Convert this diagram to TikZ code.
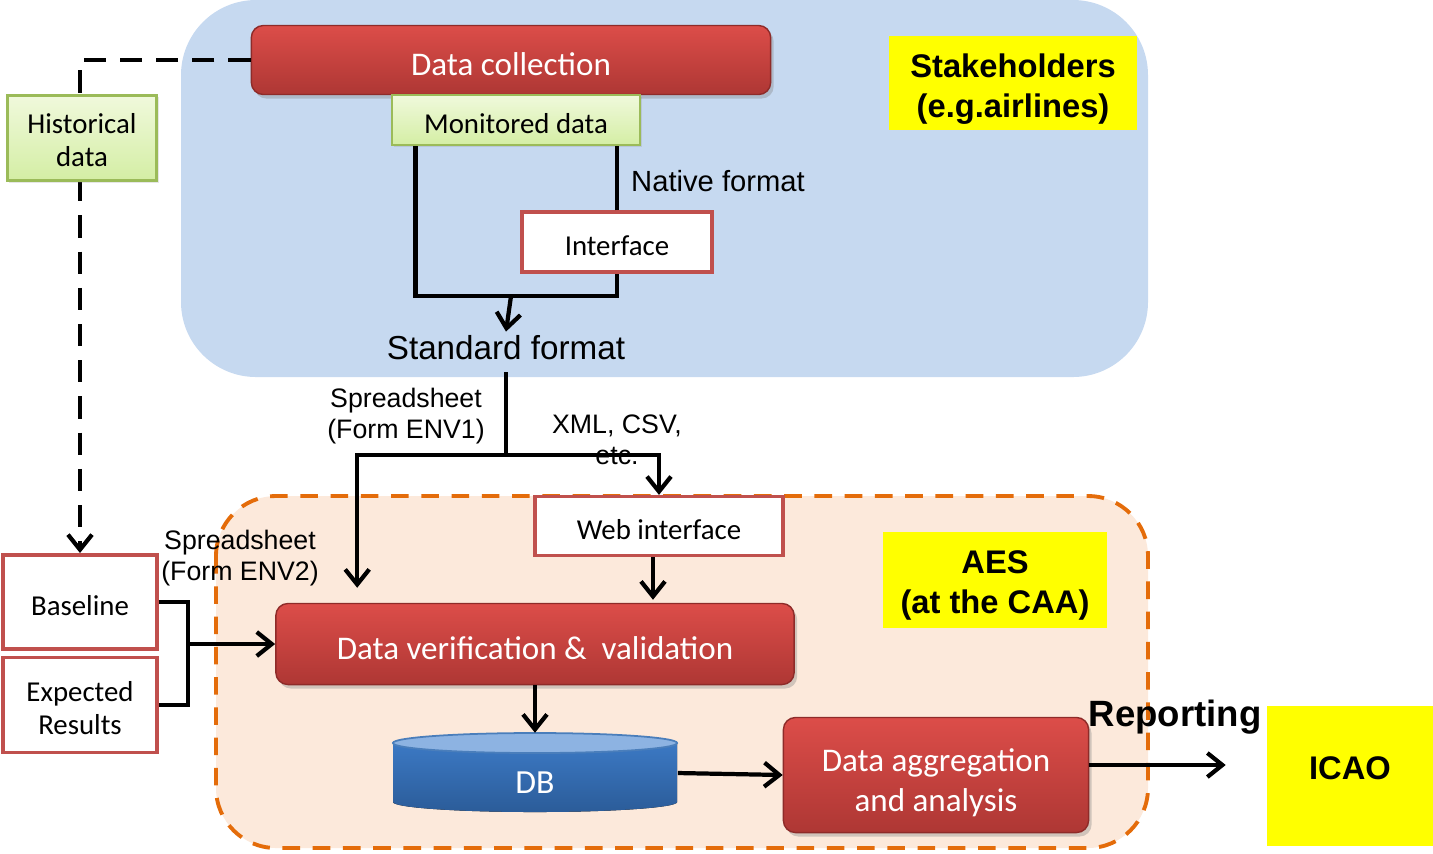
\documentclass[tikz,border=0pt]{standalone}
\usepackage{fontspec}
\setmainfont{Carlito}
\newfontfamily\arialFont{Liberation Sans}
\usetikzlibrary{arrows.meta,shadows}
\definecolor{regionBlue}{HTML}{C6D9F0}
\definecolor{regionPeach}{HTML}{FCE9DB}
\definecolor{dashOrange}{HTML}{E46C0A}
\definecolor{redTop}{HTML}{DC4D49}
\definecolor{redBottom}{HTML}{AE3734}
\definecolor{redLine}{HTML}{8E2B29}
\definecolor{frameRed}{HTML}{C0504D}
\definecolor{greenTop}{HTML}{F0F9DC}
\definecolor{greenBottom}{HTML}{D4EEA4}
\definecolor{greenLine}{HTML}{9BBB59}
\definecolor{dbCap}{HTML}{8DB3E2}
\definecolor{dbBodyTop}{HTML}{3E7DCA}
\definecolor{dbBodyBottom}{HTML}{2B5C99}
\definecolor{dbLine}{HTML}{4A7EBB}
\definecolor{labelYellow}{HTML}{FFFF00}
\begin{document}
\begin{tikzpicture}[x=0.01cm, y=-0.01cm,
    redBox/.style={draw=redLine, top color=redTop, bottom color=redBottom, rounded corners=0.12cm,
        text=white, font=\fontsize{9.4}{11.4}\selectfont, align=center,
        drop shadow={opacity=0.35, shadow xshift=0.03cm, shadow yshift=-0.04cm}},
    greenBox/.style={draw=greenLine, line width=0.6pt, top color=greenTop, bottom color=greenBottom,
        font=\fontsize{8.2}{9.4}\selectfont, align=center,
        drop shadow={opacity=0.2, shadow xshift=0.02cm, shadow yshift=-0.02cm}},
    frameBox/.style={draw=frameRed, line width=0.9pt, fill=white, font=\fontsize{8.2}{9.4}\selectfont, align=center},
    yellowBox/.style={fill=labelYellow, font=\arialFont\bfseries\fontsize{9.3}{11.4}\selectfont, align=center,
        inner ysep=0.5pt},
    note/.style={font=\arialFont\fontsize{7.6}{8.8}\selectfont, align=center, inner sep=1pt},
    connector/.style={line width=1.2pt},
    connArrow/.style={line width=1.2pt, -{Straight Barb[length=0.15cm, width=0.24cm, line width=1.2pt]}}]
    \useasboundingbox (0,0) rectangle (1433,853);

    % regions
    \fill[regionBlue, rounded corners=0.75cm] (181,0) rectangle (1148,377);
    \draw[dashOrange, fill=regionPeach, line width=1.1pt, dash pattern=on 5pt off 3.6pt, rounded corners=0.6cm]
        (216,496) rectangle (1148,848);

    % stakeholder side
    \node[redBox, text height=8.6pt, minimum width=5.19cm, minimum height=0.69cm] (collect) at (511,60) {Data collection};
    \node[greenBox, text height=7.6pt, minimum width=2.47cm, minimum height=0.50cm] (monitored) at (516,120) {Monitored data};
    \node[frameBox, text height=7.6pt, minimum width=1.90cm, minimum height=0.60cm] (interface) at (617,242) {Interface};
    \node[font=\arialFont\fontsize{8.3}{10}\selectfont] (native) at (718,181) {Native format};
    \node[font=\arialFont\fontsize{9.45}{11}\selectfont, inner sep=1pt] (std) at (506,348) {Standard format};
    \node[yellowBox, text height=21.5pt, minimum width=2.47cm, minimum height=0.94cm] (stake) at (1013,83)
        {Stakeholders\\(e.g.airlines)};

    % left column
    \draw[connArrow, line width=1.1pt, dash pattern=on 6.3pt off 4pt] (collect.west) -| (80,553);
    \node[greenBox, text height=16.4pt, minimum width=1.49cm, minimum height=0.85cm] (hist) at (82,138) {Historical\\data};
    \node[frameBox, text height=7.6pt, minimum width=1.54cm, minimum height=0.94cm] (baseline) at (80,602) {Baseline};
    \node[frameBox, text height=16.6pt, minimum width=1.54cm, minimum height=0.95cm] (expected) at (80,705) {Expected\\Results};

    % AES side
    \node[frameBox, text height=7.6pt, minimum width=2.48cm, minimum height=0.59cm] (web) at (659,526) {Web interface};
    \node[redBox, text height=8.6pt, minimum width=5.18cm, minimum height=0.81cm] (verify) at (535,644)
        {Data verification \&~ validation};
    \node[yellowBox, text height=20.9pt, minimum width=2.24cm, minimum height=0.95cm] (aes) at (995,580)
        {AES\\(at the CAA)};
    \fill[top color=dbBodyTop, bottom color=dbBodyBottom] (393,743) -- (393,802)
        arc[start angle=180, end angle=360, x radius=1.42cm, y radius=0.10cm] -- (677,743)
        arc[start angle=0, end angle=180, x radius=1.42cm, y radius=0.10cm] -- cycle;
    \filldraw[fill=dbCap, draw=dbLine, line width=0.5pt] (535,743) ellipse [x radius=1.42cm, y radius=0.10cm];
    \node[minimum width=2.84cm, minimum height=0.79cm] (db) at (535,773) {};
    \node[text=white, font=\fontsize{9.6}{11}\selectfont] (dbText) at (535,783) {DB};
    \node[redBox, text height=22.2pt, minimum width=3.05cm, minimum height=1.15cm] (agg) at (936,775)
        {Data aggregation\\and analysis};
    \node[yellowBox, text depth=4.6pt, minimum width=1.65cm, minimum height=1.40cm] (icao) at (1350,776) {ICAO};

    % labels on the connectors
    \node[note] (envOne) at (406,416) {Spreadsheet\\(Form ENV1)};
    \node[note] (xmlCsv) at (617,440) {XML, CSV,\\etc.};
    \node[note] (envTwo) at (240,558) {Spreadsheet\\(Form ENV2)};
    \node[font=\arialFont\bfseries\fontsize{10.4}{12}\selectfont] (report) at (1175,717) {Reporting};

    % connectors
    \coordinate (join) at (511,296);
    \coordinate (split) at (506,455);
    \coordinate (repOut) at ([yshift=0.10cm]agg.east);
    \draw[connector] ([xshift=0.24cm]monitored.south west) |- (interface.south |- join) -- (interface.south);
    \draw[connector] (interface.north) -- (interface.north |- monitored.south);
    \draw[connArrow] (join) -- (std.north);
    \draw[connector] ([yshift=-0.08cm]std.south) -- (split);
    \draw[connArrow] (split) -| ([xshift=0.82cm, yshift=0.15cm]verify.north west);
    \draw[connArrow] (split) -| (web.north);
    \draw[connArrow] ([xshift=-0.06cm]web.south) -- ([xshift=-0.06cm, yshift=0.03cm]web.south |- verify.north);
    \draw[connArrow] (verify.south) -- (db.north);
    \draw[connArrow] (db.east) -- (agg.west);
    \draw[connArrow] (repOut) -- ([xshift=-0.41cm]icao.west |- repOut);
    \draw[connector] (baseline.east) -- ++(0.29cm,0) |- (expected.east);
    \draw[connArrow] ([xshift=0.29cm]baseline.east |- verify.west) -- (verify.west);
\end{tikzpicture}
\end{document}
